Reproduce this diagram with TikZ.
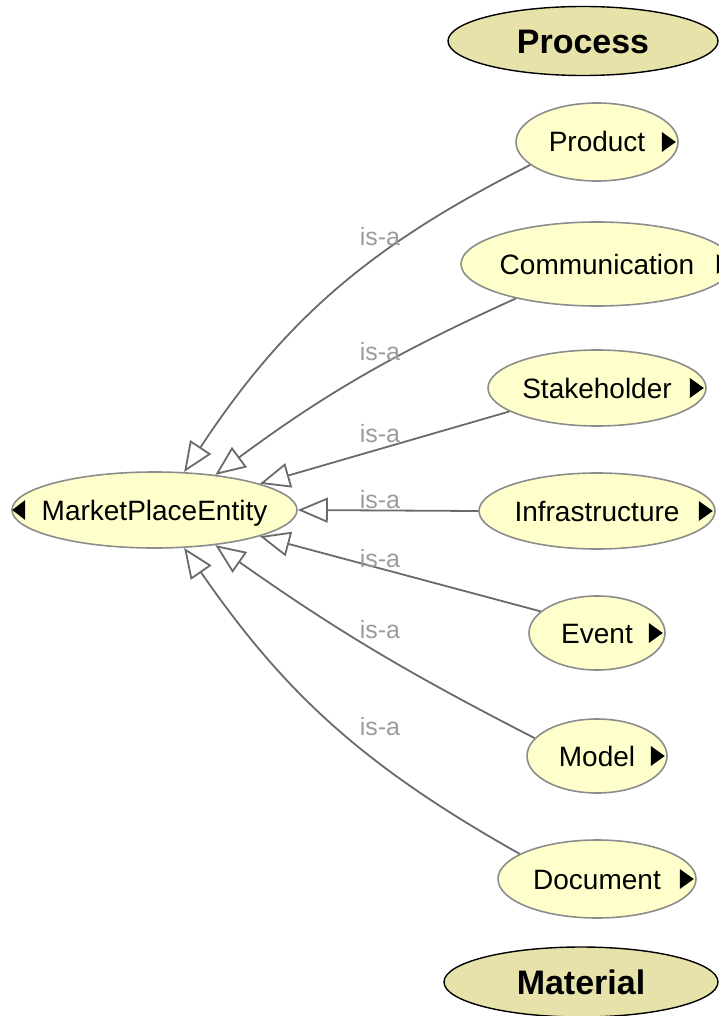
\documentclass[tikz,border=0pt]{standalone}
\usepackage{fontspec}
\setmainfont{Liberation Sans}
\usepackage{tikz}
\usetikzlibrary{arrows.meta, positioning, shapes, calc}

\definecolor{clsfill}{HTML}{FFFFCC}
\definecolor{clsedge}{HTML}{8C8C8C}
\definecolor{topfill}{HTML}{E6E2AA}
\definecolor{edgegray}{HTML}{6A6A6A}
\definecolor{lblgray}{HTML}{9C9C9C}

\tikzset{
  clsnode/.style={ellipse, draw=clsedge, fill=clsfill, line width=1.6pt, inner sep=0pt,
    font=\fontsize{28}{34}\selectfont, text height=20pt, text depth=0pt},
  gennode/.style={ellipse, draw=black, fill=topfill, line width=1.4pt, inner sep=0pt,
    font=\bfseries\fontsize{34}{40}\selectfont, text height=24.3pt, text depth=0pt},
  isa/.style={-{Triangle[open, length=30pt, width=25pt]}, draw=edgegray, line width=1.8pt},
  isalbl/.style={text=lblgray, font=\fontsize{25}{30}\selectfont, inner sep=0pt}
}
\newcommand{\cname}[1]{\makebox[0pt]{#1}}
\newcommand{\moremark}[1]{\fill ($(#1.east)+(-3,0)$) -- ++(-14,-10) -- ++(0,20) -- cycle;}

\begin{document}
\begin{tikzpicture}[x=1pt, y=-1pt]
            \useasboundingbox (0,0) rectangle (719,1016);

            % blocks
            \node (process) [gennode, minimum width=270, minimum height=69] at (583,41) {\cname{Process}};
            \node (material) [gennode, minimum width=274, minimum height=70] at (581,982) {\cname{Material}};

            \node (mpe) [clsnode, minimum width=285, minimum height=76] at (154.5,510) {\cname{MarketPlaceEntity}};

            \node (product) [clsnode, minimum width=162, minimum height=78] at (597,142) {\cname{Product}};
            \node (comm) [clsnode, minimum width=272, minimum height=84] at (597,264) {\cname{Communication}};
            \node (stake) [clsnode, minimum width=218, minimum height=76] at (597,388) {\cname{Stakeholder}};
            \node (infra) [clsnode, minimum width=236, minimum height=76] at (597,511) {\cname{Infrastructure}};
            \node (event) [clsnode, minimum width=136, minimum height=74] at (597,633) {\cname{Event}};
            \node (model) [clsnode, minimum width=140, minimum height=74] at (597,756) {\cname{Model}};
            \node (doc) [clsnode, minimum width=198, minimum height=78] at (597,879) {\cname{Document}};

            % expand marks
            \fill ($(mpe.west)+(1,0)$) -- ++(13,-10) -- ++(0,20) -- cycle;
            \moremark{product}
            \moremark{comm}
            \moremark{stake}
            \moremark{infra}
            \moremark{event}
            \moremark{model}
            \moremark{doc}

            % arrows
            \draw[isa] (product.199) to[bend right=15] (mpe.52);
            \draw[isa] (comm.203) to[bend right=6] (mpe.30);
            \draw[isa] (stake.195) -- (mpe.14);
            \draw[isa] (infra.west) -- (mpe.east);
            \draw[isa] (event.159) -- (mpe.-14);
            \draw[isa] (model.164) to[bend left=4] (mpe.-30);
            \draw[isa] (doc.162) to[bend left=13] (mpe.-52);

            % labels
            \node (l1) [isalbl] at (380,237) {is-a};
            \node (l2) [isalbl] at (380,352) {is-a};
            \node (l3) [isalbl] at (380,434) {is-a};
            \node (l4) [isalbl] at (380,500) {is-a};
            \node (l5) [isalbl] at (380,559) {is-a};
            \node (l6) [isalbl] at (380,630) {is-a};
            \node (l7) [isalbl] at (380,727) {is-a};

        \end{tikzpicture}
\end{document}
